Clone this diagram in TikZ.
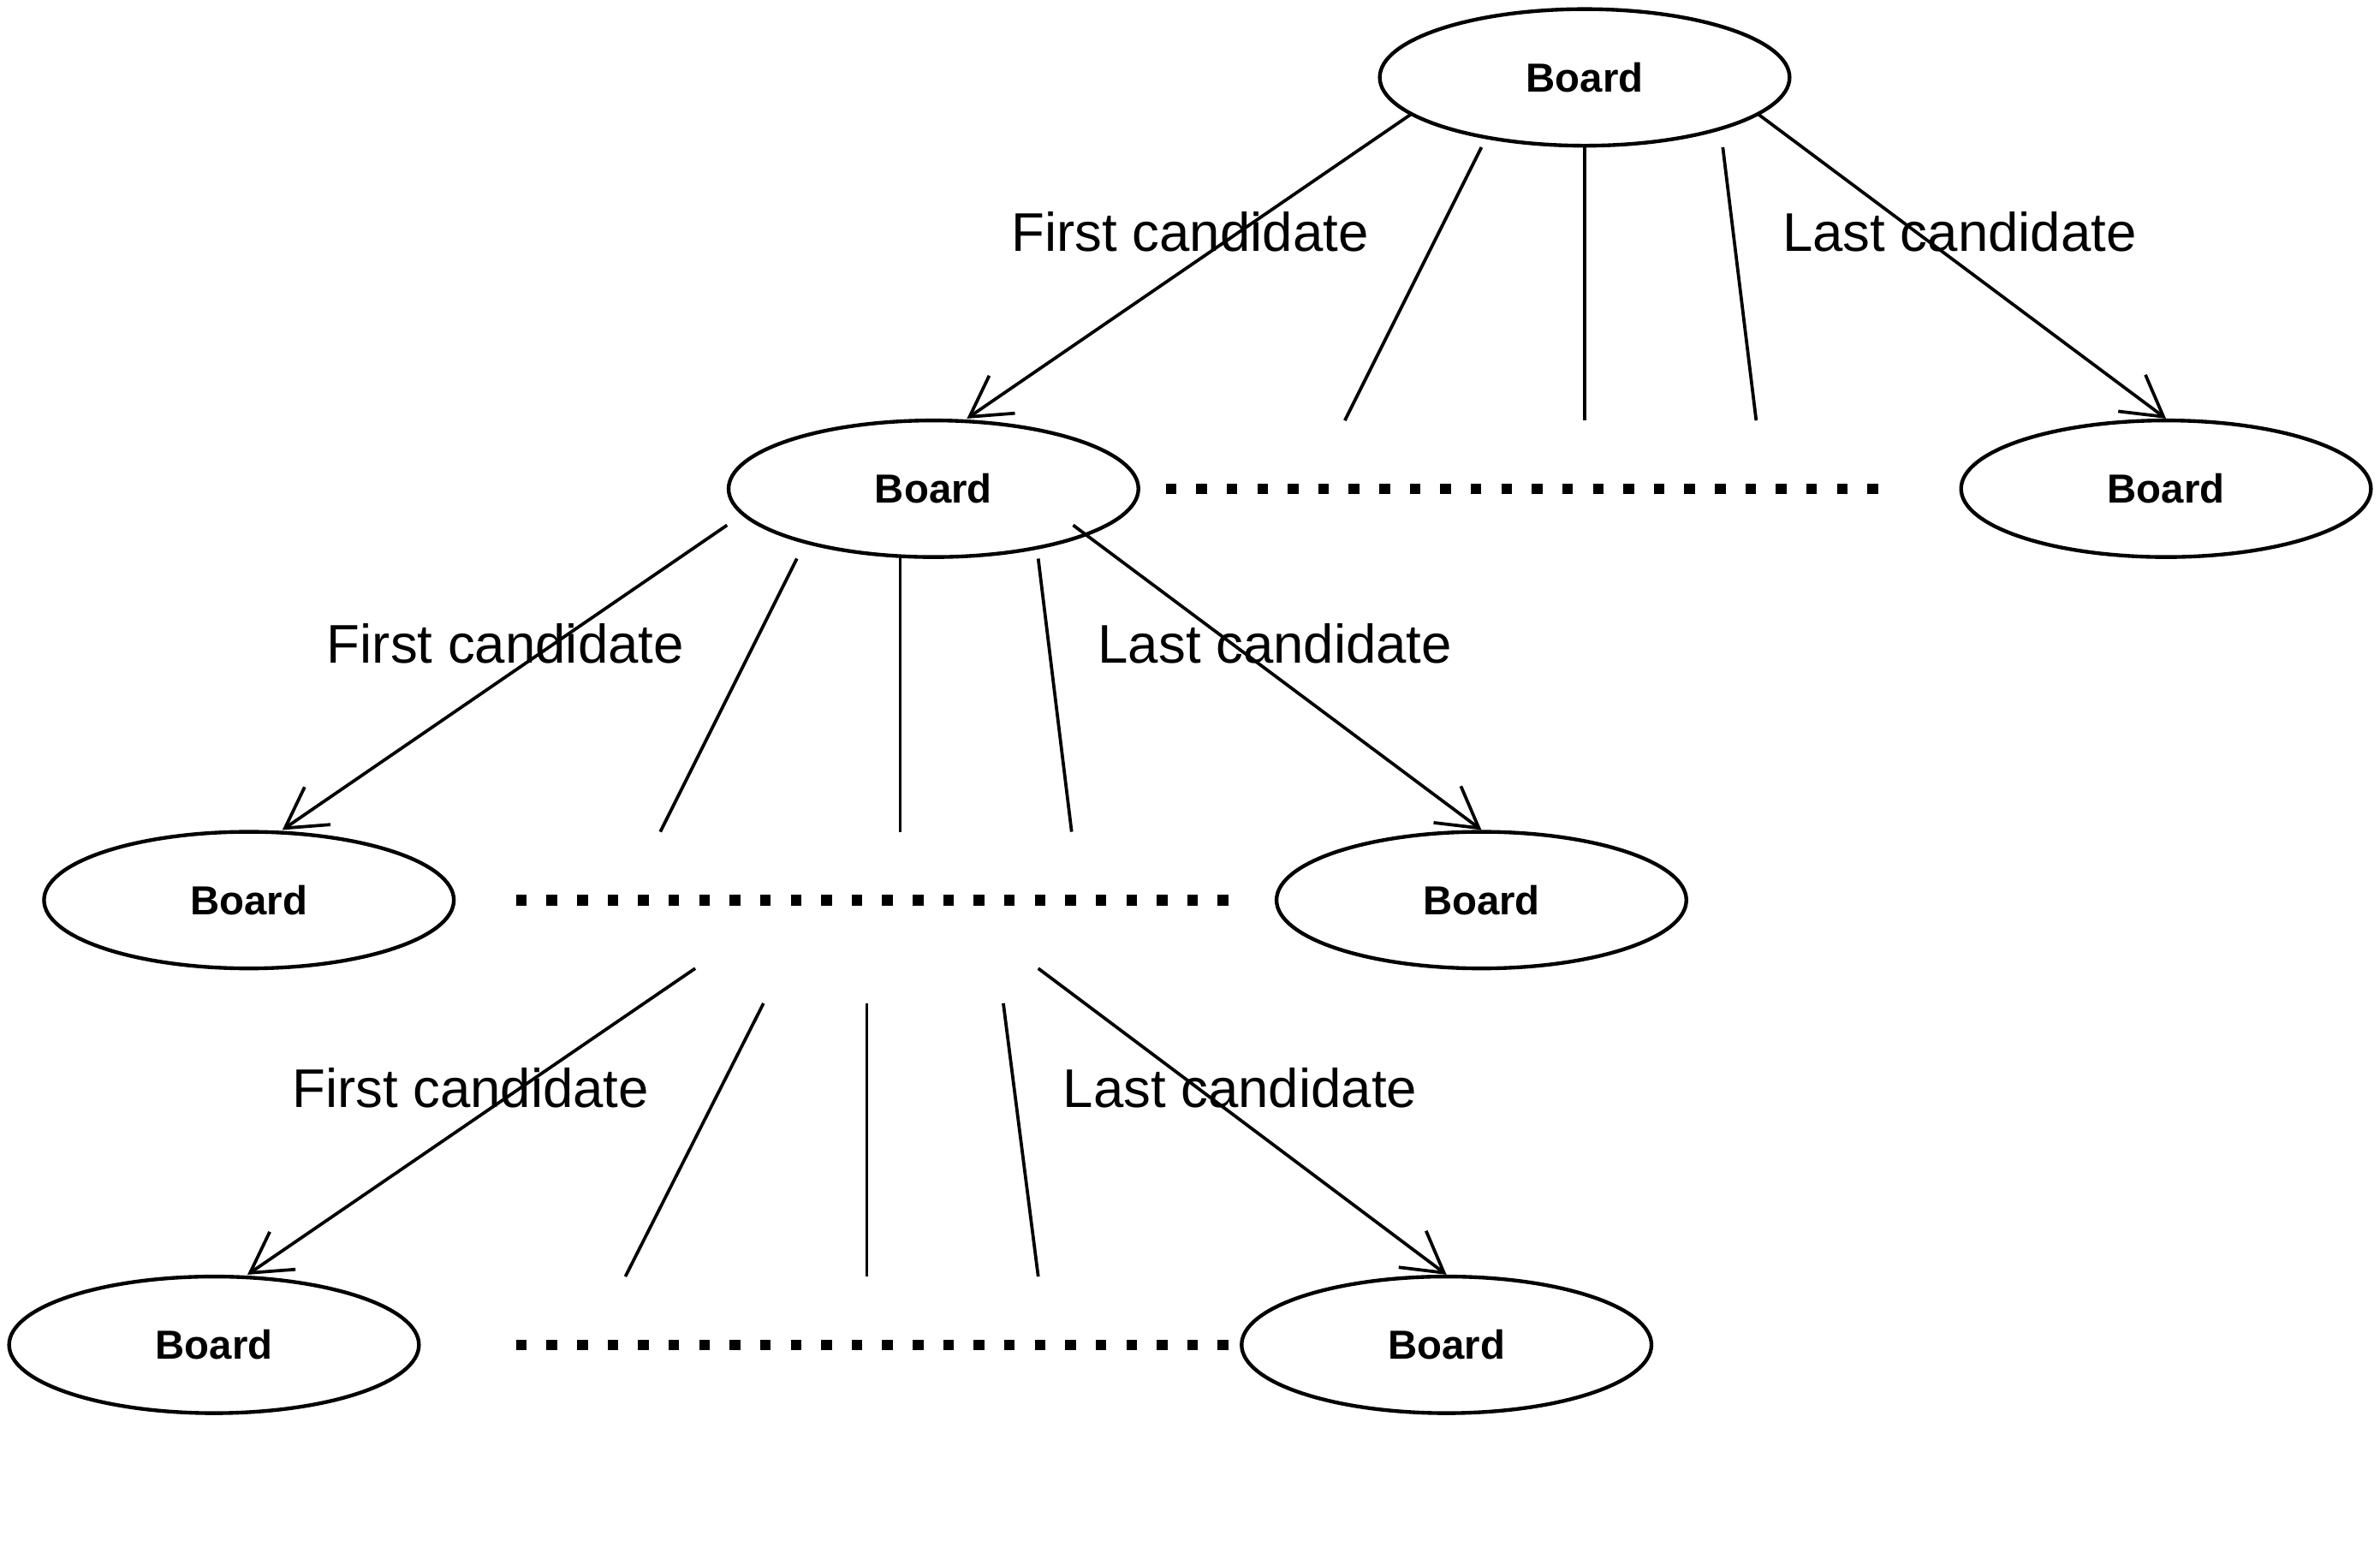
\documentclass[tikz,border=0pt]{standalone}
\usepackage{fontspec}
\setmainfont{Liberation Sans}
\usetikzlibrary{shapes.geometric,arrows.meta}
\tikzset{
  board/.style={draw, ellipse, line width=0.7pt, minimum width=2.7cm, minimum height=0.9cm,
    inner sep=0pt, font=\bfseries\fontsize{7.6}{9}\selectfont},
  cand/.style={font=\fontsize{10.2}{12}\selectfont},
  pick/.style={-{Straight Barb[length=0.26cm,width=0.3cm]}},
  more/.style={line width=0.07cm, dash pattern=on 0.07cm off 0.131cm},
}
\begin{document}
\begin{tikzpicture}[line width=0.6pt]
    \useasboundingbox (0,0) rectangle (15.68,10.27);
    % TOP : root board
    \begin{scope}[shift={(10.44,9.76)}]
      \node[board] (b0) at (0,0) {Board};
      \node[board] (b1l) at (-4.29,-2.71) {Board};
      \node[board] (b1r) at (3.83,-2.71) {Board};
      \coordinate (f0l) at (-1.14,-0.24);
      \coordinate (f0r) at (1.14,-0.24);
      \draw[pick] (f0l) -- ([xshift=0.22cm]b1l.north);
      \draw[pick] (f0r) -- (b1r.north);
      \coordinate (s0a) at (-0.68,-0.46); \coordinate (e0a) at (-1.58,-2.26);
      \coordinate (s0b) at (0,-0.46);     \coordinate (e0b) at (0,-2.26);
      \coordinate (s0c) at (0.91,-0.46);  \coordinate (e0c) at (1.13,-2.26);
      \draw (s0a) -- (e0a);
      \draw (s0b) -- (e0b);
      \draw (s0c) -- (e0c);
      \node[cand] (c0l) at (-2.60,-1.02) {First candidate};
      \node[cand] (c0r) at (2.47,-1.02) {Last candidate};
    \end{scope}
    % LEVEL 1 : candidates of the first board
    \begin{scope}[shift={(5.93,7.05)}]
      \node[board] (b2l) at (-4.29,-2.71) {Board};
      \node[board] (b2r) at (3.83,-2.71) {Board};
      \coordinate (f1l) at (-1.14,-0.24);
      \coordinate (f1r) at (1.14,-0.24);
      \draw[pick] (f1l) -- ([xshift=0.22cm]b2l.north);
      \draw[pick] (f1r) -- (b2r.north);
      \coordinate (s1a) at (-0.68,-0.46); \coordinate (e1a) at (-1.58,-2.26);
      \coordinate (s1b) at (0,-0.46);     \coordinate (e1b) at (0,-2.26);
      \coordinate (s1c) at (0.91,-0.46);  \coordinate (e1c) at (1.13,-2.26);
      \draw (s1a) -- (e1a);
      \draw (s1b) -- (e1b);
      \draw (s1c) -- (e1c);
      \node[cand] (c1l) at (-2.60,-1.02) {First candidate};
      \node[cand] (c1r) at (2.47,-1.02) {Last candidate};
    \end{scope}
    % LEVEL 2 : candidates further down
    \begin{scope}[shift={(5.71,4.12)}]
      \node[board] (b3l) at (-4.30,-2.71) {Board};
      \node[board] (b3r) at (3.82,-2.71) {Board};
      \coordinate (f2l) at (-1.13,-0.23);
      \coordinate (f2r) at (1.13,-0.23);
      \draw[pick] (f2l) -- ([xshift=0.22cm]b3l.north);
      \draw[pick] (f2r) -- (b3r.north);
      \coordinate (s2a) at (-0.68,-0.46); \coordinate (e2a) at (-1.59,-2.26);
      \coordinate (s2b) at (0,-0.46);     \coordinate (e2b) at (0,-2.26);
      \coordinate (s2c) at (0.90,-0.46);  \coordinate (e2c) at (1.13,-2.26);
      \draw (s2a) -- (e2a);
      \draw (s2b) -- (e2b);
      \draw (s2c) -- (e2c);
      \node[cand] (c2l) at (-2.61,-1.02) {First candidate};
      \node[cand] (c2r) at (2.46,-1.02) {Last candidate};
    \end{scope}
    % dotted rows between the boards
    \coordinate (d1s) at (7.68,7.05);  \coordinate (d1e) at (12.373,7.05);
    \coordinate (d2s) at (3.40,4.34);  \coordinate (d2e) at (8.093,4.34);
    \coordinate (d3s) at (3.40,1.41);  \coordinate (d3e) at (8.093,1.41);
    \draw[more] (d1s) -- (d1e);
    \draw[more] (d2s) -- (d2e);
    \draw[more] (d3s) -- (d3e);
  \end{tikzpicture}
\end{document}
